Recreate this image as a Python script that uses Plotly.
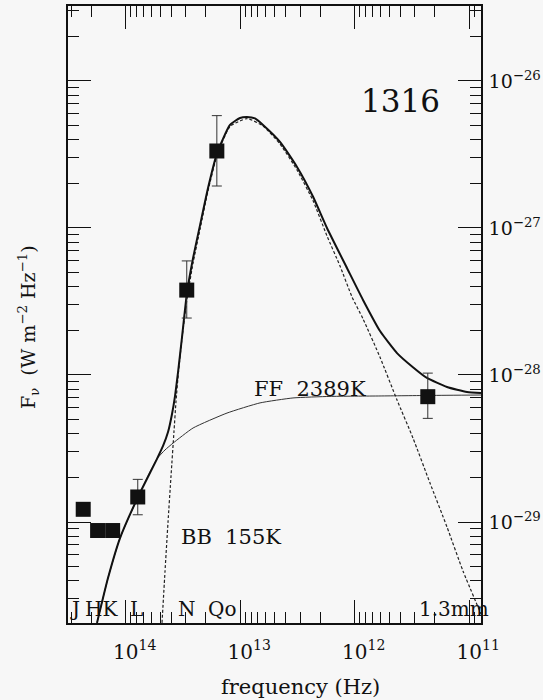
import plotly.graph_objects as go

# ---------------- data ----------------
# observed photometry: J, H, K, L, N, Q, 1.3mm
obs_freq = [2.35e14, 1.76e14, 1.30e14, 7.85e13, 2.93e13, 1.60e13, 2.30e11]
obs_flux = [1.22e-29, 8.75e-30, 8.75e-30, 1.48e-29, 3.78e-28, 3.34e-27, 7.12e-29]
obs_hi = [1.22e-29, 8.75e-30, 8.75e-30, 1.95e-29, 5.97e-28, 5.81e-27, 1.03e-28]
obs_lo = [1.22e-29, 8.75e-30, 8.75e-30, 1.12e-29, 2.44e-28, 1.93e-27, 5.07e-29]

# total model (BB + FF)
tot_freq = [1.781e14, 1.428e14, 1.121e14, 7.81e13, 5.33e13, 4.72e13, 4.27e13, 3.94e13,
            3.71e13, 3.49e13, 3.22e13, 2.91e13, 2.58e13, 2.24e13, 1.91e13, 1.59e13,
            1.228e13, 1.004e13, 8.72e12, 7.43e12, 6.32e12, 4.49e12, 3.19e12, 2.31e12,
            1.746e12, 1.168e12, 8.46e11, 6.01e11, 4.27e11, 3.10e11, 2.34e11, 1.563e11,
            1.045e11, 7.89e10]
tot_flux = [2.06e-30, 4.16e-30, 7.78e-30, 1.48e-29, 2.69e-29, 3.29e-29, 4.09e-29, 5.43e-29,
            7.19e-29, 1.047e-28, 1.82e-28, 3.67e-28, 6.25e-28, 1.05e-27, 1.87e-27, 3.24e-27,
            5.02e-27, 5.60e-27, 5.69e-27, 5.56e-27, 5.02e-27, 3.85e-27, 2.60e-27, 1.63e-27,
            1.00e-27, 5.34e-28, 3.24e-28, 1.99e-28, 1.41e-28, 1.13e-28, 9.55e-29, 8.28e-29,
            7.65e-29, 7.55e-29]

# free-free 2389 K
ff_freq = [1.781e14, 1.428e14, 1.121e14, 7.81e13, 5.33e13, 4.54e13, 3.86e13, 2.58e13,
           1.304e13, 6.71e12, 3.46e12, 1.643e12, 6.01e11, 2.20e11, 7.89e10]
ff_flux = [2.06e-30, 4.16e-30, 7.78e-30, 1.48e-29, 2.69e-29, 3.09e-29, 3.44e-29, 4.36e-29,
           5.51e-29, 6.46e-29, 6.98e-29, 7.15e-29, 7.20e-29, 7.26e-29, 7.31e-29]

# black body 155 K
bb_freq = [4.82e13, 4.54e13, 4.27e13, 4.02e13, 3.79e13, 3.64e13, 3.46e13, 3.22e13,
           2.91e13, 2.58e13, 2.24e13, 1.91e13, 1.59e13, 1.228e13, 8.72e12, 6.32e12,
           4.49e12, 3.19e12, 2.31e12, 1.746e12, 1.344e12, 1.056e12, 8.46e11, 6.01e11,
           4.27e11, 3.10e11, 2.20e11, 1.563e11, 1.133e11, 7.89e10]
bb_flux = [2.06e-30, 4.57e-30, 1.00e-29, 2.06e-29, 4.09e-29, 6.55e-29, 1.047e-28, 1.79e-28,
           3.34e-28, 5.78e-28, 9.84e-28, 1.79e-27, 3.14e-27, 4.90e-27, 5.55e-27, 4.94e-27,
           3.72e-27, 2.48e-27, 1.53e-27, 8.83e-28, 5.51e-28, 3.40e-28, 2.41e-28, 1.32e-28,
           6.76e-29, 3.73e-29, 1.84e-29, 9.25e-30, 4.64e-30, 2.37e-30]

x_major = [1e14, 1e13, 1e12, 1e11]
x_labels = ["10<sup>14</sup>", "10<sup>13</sup>", "10<sup>12</sup>", "10<sup>11</sup>"]
y_major = [1e-29, 1e-28, 1e-27, 1e-26]
y_labels = ["10<sup>\u221229</sup>", "10<sup>\u221228</sup>", "10<sup>\u221227</sup>", "10<sup>\u221226</sup>"]

band_names = ["J", "HK", "L", "N", "Qo", "1.3mm"]

# ---------------- figure ----------------
INK = "#111111"
BG = "#f7f7f7"
FONT = "DejaVu Serif"

W, H = 543, 700
L, R, T, B = 68, 62, 6, 77
pw, ph = W - L - R, H - T - B


def px(x):
    return (x - L) / pw


def py(y):
    return (H - B - y) / ph


fig = go.Figure()

fig.add_trace(go.Scatter(x=ff_freq, y=ff_flux, mode="lines",
                         line=dict(color="#333333", width=1, shape="spline", smoothing=0.5),
                         hoverinfo="skip"))
fig.add_trace(go.Scatter(x=bb_freq, y=bb_flux, mode="lines",
                         line=dict(color="#222222", width=1.2, dash="3px,2px", shape="spline", smoothing=0.5),
                         hoverinfo="skip"))
fig.add_trace(go.Scatter(x=tot_freq, y=tot_flux, mode="lines",
                         line=dict(color=INK, width=2, shape="spline", smoothing=0.5),
                         hoverinfo="skip"))

err_plus = [h - f for h, f in zip(obs_hi, obs_flux)]
err_minus = [f - l for l, f in zip(obs_lo, obs_flux)]
fig.add_trace(go.Scatter(x=obs_freq, y=obs_flux, mode="markers",
                         marker=dict(symbol="square", size=15, color=INK),
                         error_y=dict(type="data", symmetric=False, array=err_plus,
                                      arrayminus=err_minus, color="#333333",
                                      thickness=1, width=5)))

minor_x = [k * 10.0 ** e for e in range(10, 15) for k in range(2, 10)]
minor_y = [k * 10.0 ** e for e in range(-30, -25) for k in range(2, 10)]

axis_common = dict(showline=True, linecolor=INK, linewidth=1.5, mirror="allticks",
                   ticks="inside", tickcolor=INK, tickwidth=1, ticklen=23,
                   showgrid=False, zeroline=False, automargin=False)

fig.update_layout(
    width=W, height=H,
    margin=dict(l=L, r=R, t=T, b=B),
    paper_bgcolor=BG, plot_bgcolor=BG,
    showlegend=False,
    xaxis=dict(type="log", range=[14.504, 10.897],
               tickvals=x_major, ticktext=x_labels,
               tickfont=dict(family=FONT, size=20, color=INK),
               ticklabelstandoff=10, ticklabelshift=-9,
               minor=dict(tickvals=minor_x, ticks="inside", ticklen=11,
                          tickcolor=INK, tickwidth=1, showgrid=False),
               **axis_common),
    yaxis=dict(type="log", range=[-29.687, -25.490], side="right",
               tickvals=y_major, ticktext=y_labels,
               tickfont=dict(family=FONT, size=19, color=INK),
               ticklabelstandoff=2,
               minor=dict(tickvals=minor_y, ticks="inside", ticklen=11,
                          tickcolor=INK, tickwidth=1, showgrid=False),
               **axis_common),
)

ann = []


def text(x, y, s, size, xanchor="center", angle=0):
    ann.append(dict(x=px(x), y=py(y), xref="paper", yref="paper", text=s,
                    showarrow=False, xanchor=xanchor, yanchor="middle", textangle=angle,
                    font=dict(family=FONT, size=size, color=INK)))


text(400, 101, "1316", 31)
text(231, 537, "BB  155K", 21)
text(310, 389, "FF  2389K", 21)

band_pos = [75, 101, 136, 187, 222, 454]
for name, bx in zip(band_names, band_pos):
    text(bx, 609, name, 20)

text(300, 687, "frequency (Hz)", 21)
text(28, 327, "F<sub>\u03bd</sub>  (W m<sup>\u22122</sup> Hz<sup>\u22121</sup>)", 19, angle=-90)

fig.update_layout(annotations=ann)

fig.write_html("out.html")
